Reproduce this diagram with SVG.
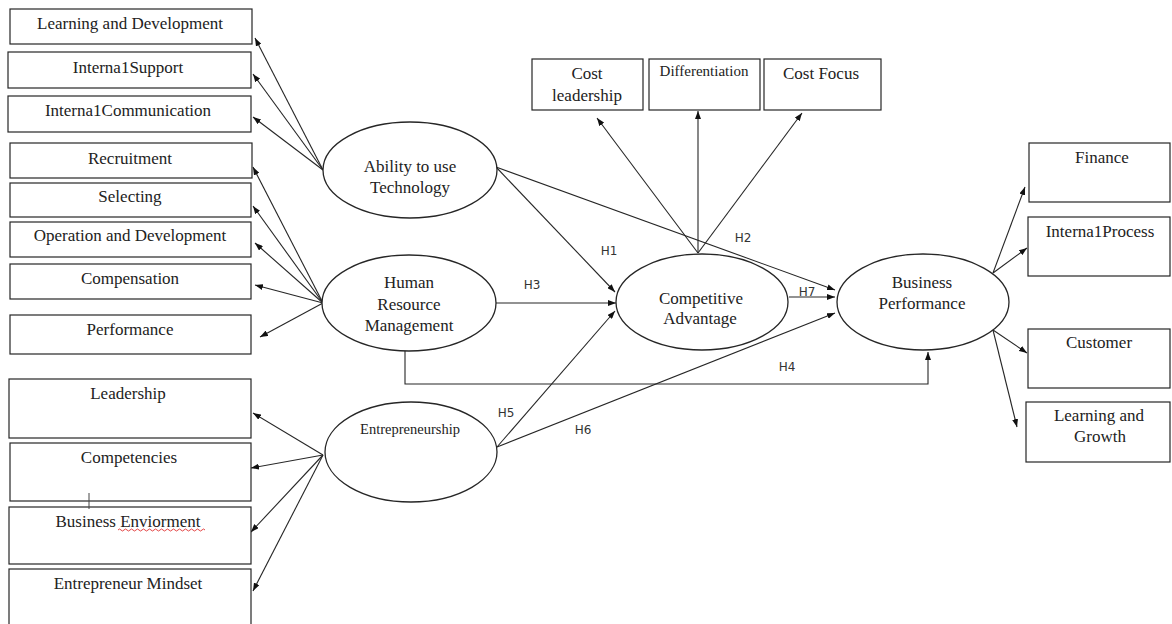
<svg xmlns="http://www.w3.org/2000/svg" width="1172" height="624" viewBox="0 0 1172 624">
<style>
.box{fill:#fff;stroke:#262626;stroke-width:1.2}
.ell{fill:#fff;stroke:#262626;stroke-width:1.3}
.t{font-family:"Liberation Serif","Times New Roman",serif;font-size:17px;fill:#222;text-anchor:middle}
.ts{font-size:15px}
.te{font-size:14.5px}
.h{font-family:"DejaVu Sans","Liberation Sans",sans-serif;font-size:12px;fill:#333;text-anchor:middle}
.c{fill:none;stroke:#262626;stroke-width:1.1;marker-end:url(#ah)}
</style>
<defs>
<marker id="ah" viewBox="0 0 8 6" refX="8" refY="3" markerWidth="8" markerHeight="6" markerUnits="userSpaceOnUse" orient="auto">
<path d="M0,0 L8,3 L0,6 z" fill="#111"/>
</marker>
</defs>
<rect width="1172" height="624" fill="#fff"/>

<g id="connectors">
<line class="c" x1="323" y1="170" x2="255" y2="38"/>
<line class="c" x1="323" y1="170" x2="253" y2="74"/>
<line class="c" x1="323" y1="170" x2="253" y2="117"/>
<line class="c" x1="323" y1="303" x2="253" y2="167"/>
<line class="c" x1="323" y1="303" x2="253" y2="206"/>
<line class="c" x1="323" y1="303" x2="255" y2="243"/>
<line class="c" x1="323" y1="303" x2="255" y2="285"/>
<line class="c" x1="323" y1="303" x2="260" y2="337"/>
<line class="c" x1="323" y1="455" x2="253" y2="413"/>
<line class="c" x1="323" y1="455" x2="251" y2="468"/>
<line class="c" x1="323" y1="455" x2="251" y2="532"/>
<line class="c" x1="323" y1="455" x2="253" y2="591"/>
<line class="c" x1="698" y1="253" x2="597" y2="118"/>
<line class="c" x1="698" y1="253" x2="698" y2="111"/>
<line class="c" x1="698" y1="253" x2="802" y2="113"/>
<line class="c" x1="496" y1="167" x2="615" y2="292"/>
<line class="c" x1="496" y1="167" x2="835" y2="290"/>
<line class="c" x1="496" y1="303" x2="616" y2="303"/>
<path class="c" d="M405,351 V384 H928 V352"/>
<line class="c" x1="497" y1="447" x2="615" y2="311"/>
<line class="c" x1="497" y1="447" x2="835" y2="313"/>
<line class="c" x1="789" y1="297" x2="835" y2="297"/>
<line class="c" x1="993" y1="273" x2="1025" y2="187"/>
<line class="c" x1="993" y1="273" x2="1027" y2="248"/>
<line class="c" x1="993" y1="330" x2="1027" y2="353"/>
<line class="c" x1="993" y1="330" x2="1017" y2="427"/>
<text class="h" x="609" y="255">H1</text>
<text class="h" x="743" y="242">H2</text>
<text class="h" x="532" y="289">H3</text>
<text class="h" x="787" y="371">H4</text>
<text class="h" x="506" y="417">H5</text>
<text class="h" x="583" y="434">H6</text>
<text class="h" x="807" y="296">H7</text>
</g>

<g id="learning-development"><rect class="box" x="10" y="9" width="242" height="35"/><text class="t" x="130" y="29">Learning and Development</text></g>
<g id="internal-support"><rect class="box" x="8" y="52" width="243" height="36"/><text class="t" x="128" y="73">Interna1Support</text></g>
<g id="internal-communication"><rect class="box" x="8" y="96" width="243" height="36"/><text class="t" x="128" y="116">Interna1Communication</text></g>
<g id="recruitment"><rect class="box" x="10" y="143" width="242" height="35"/><text class="t" x="130" y="164">Recruitment</text></g>
<g id="selecting"><rect class="box" x="10" y="183" width="241" height="34"/><text class="t" x="130" y="202">Selecting</text></g>
<g id="operation-development"><rect class="box" x="10" y="222" width="241" height="35"/><text class="t" x="130" y="241">Operation and Development</text></g>
<g id="compensation"><rect class="box" x="10" y="264" width="241" height="35"/><text class="t" x="130" y="284">Compensation</text></g>
<g id="performance"><rect class="box" x="10" y="315" width="241" height="39"/><text class="t" x="130" y="335">Performance</text></g>
<g id="leadership"><rect class="box" x="9" y="379" width="242" height="59"/><text class="t" x="128" y="399">Leadership</text></g>
<g id="competencies"><rect class="box" x="10" y="443" width="241" height="58"/><text class="t" x="129" y="463">Competencies</text></g>
<g id="business-enviorment"><rect class="box" x="9" y="507" width="242" height="57"/><text class="t" x="128" y="527">Business Enviorment</text>
<path d="M118,530 q1.5,-2 3,0 t3,0 t3,0 t3,0 t3,0 t3,0 t3,0 t3,0 t3,0 t3,0 t3,0 t3,0 t3,0 t3,0 t3,0 t3,0 t3,0 t3,0 t3,0 t3,0 t3,0 t3,0 t3,0 t3,0 t3,0 t3,0 t3,0 t3,0 t3,0" fill="none" stroke="#e03030" stroke-width="0.9"/></g>
<g id="entrepreneur-mindset"><rect class="box" x="9" y="569" width="242" height="62"/><text class="t" x="128" y="589">Entrepreneur Mindset</text></g>
<g id="cursor-mark"><line x1="89" y1="493" x2="89" y2="509" stroke="#444" stroke-width="1"/></g>

<g id="cost-leadership"><rect class="box" x="532" y="59" width="111" height="51"/><text class="t" x="587" y="79">Cost</text><text class="t" x="587" y="101">leadership</text></g>
<g id="differentiation"><rect class="box" x="649" y="59" width="111" height="51"/><text class="t ts" x="704" y="76">Differentiation</text></g>
<g id="cost-focus"><rect class="box" x="764" y="59" width="117" height="51"/><text class="t" x="821" y="79">Cost Focus</text></g>

<g id="ability-technology"><ellipse class="ell" cx="410" cy="170" rx="87" ry="48"/><text class="t" x="410" y="172">Ability to use</text><text class="t" x="410" y="193">Technology</text></g>
<g id="hrm"><ellipse class="ell" cx="409" cy="303" rx="87" ry="48"/><text class="t" x="409" y="288">Human</text><text class="t" x="409" y="310">Resource</text><text class="t" x="409" y="331">Management</text></g>
<g id="entrepreneurship"><ellipse class="ell" cx="411" cy="452" rx="86" ry="50"/><text class="t te" x="410" y="434">Entrepreneurship</text></g>
<g id="competitive-advantage"><ellipse class="ell" cx="702" cy="302" rx="86" ry="48"/><text class="t" x="701" y="304">Competitive</text><text class="t" x="700" y="324">Advantage</text></g>
<g id="business-performance"><ellipse class="ell" cx="923" cy="302" rx="86" ry="48"/><text class="t" x="922" y="288">Business</text><text class="t" x="922" y="309">Performance</text></g>

<g id="finance"><rect class="box" x="1029" y="143" width="141" height="59"/><text class="t" x="1102" y="163">Finance</text></g>
<g id="internal-process"><rect class="box" x="1028" y="217" width="142" height="59"/><text class="t" x="1100" y="237">Interna1Process</text></g>
<g id="customer"><rect class="box" x="1028" y="329" width="142" height="59"/><text class="t" x="1099" y="348">Customer</text></g>
<g id="learning-growth"><rect class="box" x="1026" y="402" width="144" height="60"/><text class="t" x="1099" y="421">Learning and</text><text class="t" x="1100" y="442">Growth</text></g>
</svg>
